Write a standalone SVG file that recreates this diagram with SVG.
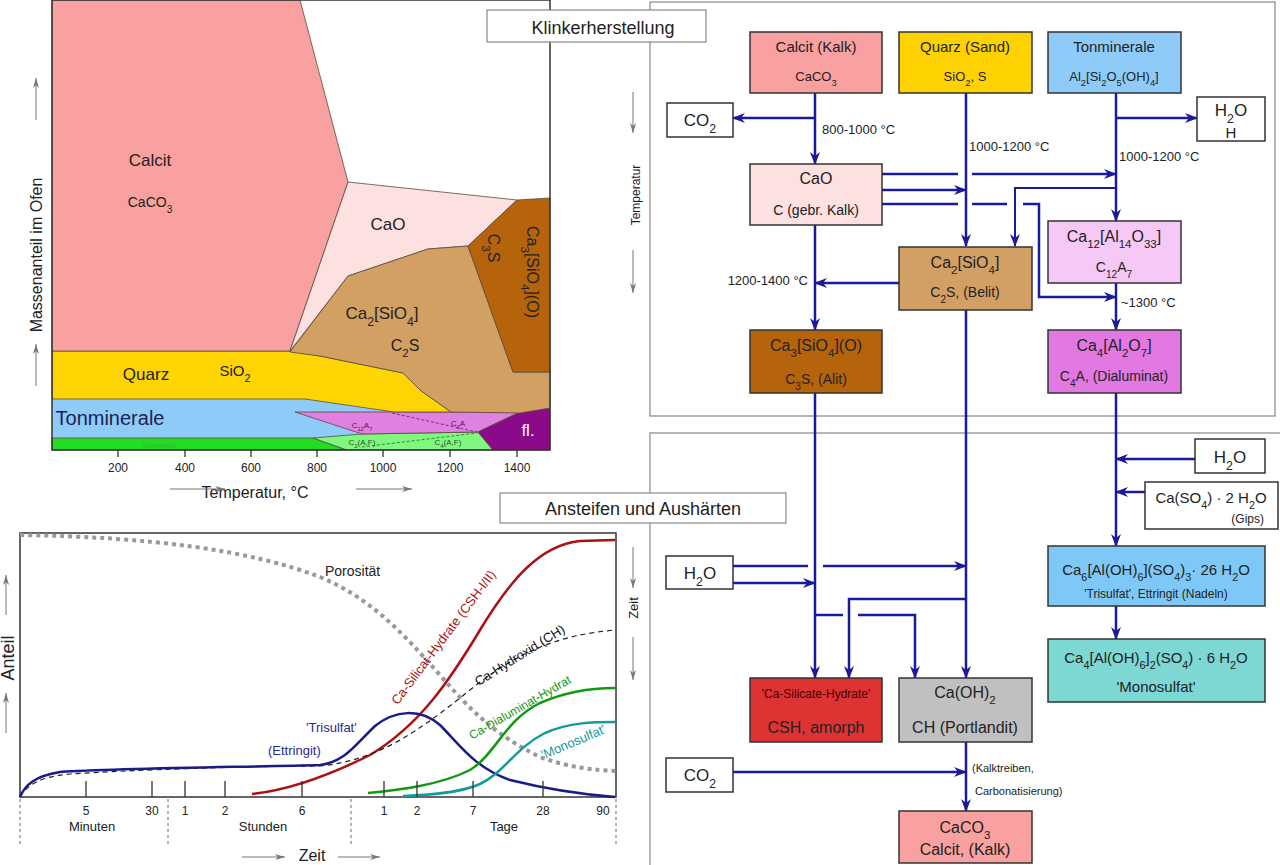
<svg xmlns="http://www.w3.org/2000/svg" width="1280" height="865" viewBox="0 0 1280 865">
<style>
.t{font-family:"Liberation Sans",Arial,sans-serif;fill:#222}
.m{text-anchor:middle}
.sb{font-size:72%;baseline-shift:sub}
.box{stroke:#333;stroke-width:1.5}
.c{fill:none;stroke:#1a1a9a;stroke-width:2.5}
.a{marker-end:url(#ah)}
.rg{stroke:#5a4a3a;stroke-width:0.8}
.panel{fill:none;stroke:#888;stroke-width:1.2}
.ga{stroke:#777;stroke-width:1;marker-end:url(#gah)}
.tick{stroke:#333;stroke-width:1.3}
.sep{stroke:#666;stroke-width:1;stroke-dasharray:3 3}
</style>
<defs>
<marker id="ah" markerWidth="13" markerHeight="10" refX="12" refY="5" orient="auto" markerUnits="userSpaceOnUse"><path d="M0,0 L13,5 L0,10 L4,5 z" fill="#1a1a9a"/></marker>
<marker id="gah" markerWidth="10" markerHeight="6" refX="10" refY="3" orient="auto" markerUnits="userSpaceOnUse"><path d="M0,0 L10,3 L0,6 L3,3 z" fill="#777"/></marker>
</defs>
<rect width="1280" height="865" fill="#fff"/>

<!-- ===== Chart 1: Klinker phases vs temperature ===== -->
<g id="chart-temperature">
<rect x="52" y="399" width="498" height="51" fill="#8ecbf9"/>
<polygon points="52,438 313,438 347,450 52,450" fill="#22dd22" class="rg"/>
<polygon points="313,438 362,434 478,432 493,450 347,450" fill="#80f880" class="rg"/>
<polygon points="295,412 520,412 478,432 362,434" fill="#e080e0" class="rg"/>
<polygon points="478,432 520,412 550,408 550,450 493,450" fill="#8a0a8a" class="rg"/>
<polygon points="52,351 290,351 320,356 403,373 420,390 451,412 394,412 305,399 52,399" fill="#fed503" class="rg"/>
<polygon points="52,0 300,0 348,182 290,351 52,351" fill="#f9a0a0" class="rg"/>
<polygon points="348,182 517,200 468,246 428,249 348,276 290,351" fill="#fde0e0" class="rg"/>
<polygon points="290,352 348,276 428,249 468,246 513,372 550,372 550,408 520,413 451,412 420,390 403,373 320,356" fill="#d2a062" class="rg"/>
<polygon points="517,200 550,198 550,372 513,372 468,246" fill="#b6640c" class="rg"/>
<line x1="392" y1="413" x2="477" y2="432" stroke="#5a2060" stroke-width="0.8" stroke-dasharray="3 2"/>
<line x1="362" y1="447" x2="477" y2="433" stroke="#226622" stroke-width="0.8" stroke-dasharray="3 2"/>
<rect x="52" y="0" width="498" height="450" fill="none" stroke="#333" stroke-width="1.5"/>
<text class="t m" x="150" y="166" font-size="17">Calcit</text>
<text class="t m" x="150" y="207" font-size="14">CaCO<tspan class="sb">3</tspan></text>
<text class="t m" x="388" y="230" font-size="17">CaO</text>
<text class="t m" x="382" y="319" font-size="17">Ca<tspan class="sb">2</tspan>[SiO<tspan class="sb">4</tspan>]</text>
<text class="t m" x="405" y="351" font-size="16">C<tspan class="sb">2</tspan>S</text>
<text class="t m" transform="translate(488,248) rotate(90)" font-size="16">C<tspan class="sb">3</tspan>S</text>
<text class="t m" transform="translate(527,272) rotate(90)" font-size="16">Ca<tspan class="sb">3</tspan>[SiO<tspan class="sb">4</tspan>](O)</text>
<text class="t m" x="146" y="380" font-size="17">Quarz</text>
<text class="t m" x="235" y="376" font-size="15">SiO<tspan class="sb">2</tspan></text>
<text class="t m" x="110" y="425" font-size="20" style="fill:#1a2450">Tonminerale</text>
<text class="t m" x="160" y="448" font-size="7" style="fill:#33b833">Eisenoxide</text>
<text class="t m" x="362" y="428" font-size="8" style="fill:#5a1060">C<tspan class="sb">12</tspan>A<tspan class="sb">7</tspan></text>
<text class="t m" x="458" y="426" font-size="8" style="fill:#5a1060">C<tspan class="sb">3</tspan>A</text>
<text class="t m" x="362" y="445" font-size="8" style="fill:#225522">C<tspan class="sb">2</tspan>(A,F)</text>
<text class="t m" x="448" y="445" font-size="8" style="fill:#225522">C<tspan class="sb">4</tspan>(A,F)</text>
<text class="t m" x="528" y="436" font-size="17" style="fill:#fff">fl.</text>
<g class="tick">
<line x1="118" y1="450" x2="118" y2="457"/><line x1="185" y1="450" x2="185" y2="457"/><line x1="251" y1="450" x2="251" y2="457"/><line x1="317" y1="450" x2="317" y2="457"/><line x1="383" y1="450" x2="383" y2="457"/><line x1="450" y1="450" x2="450" y2="457"/><line x1="517" y1="450" x2="517" y2="457"/>
</g>
<g class="t m" font-size="12">
<text x="118" y="472">200</text><text x="185" y="472">400</text><text x="251" y="472">600</text><text x="317" y="472">800</text><text x="383" y="472">1000</text><text x="450" y="472">1200</text><text x="517" y="472">1400</text>
</g>
<text class="t m" x="255" y="498" font-size="16">Temperatur, °C</text>
<line x1="170" y1="489" x2="225" y2="489" class="ga"/>
<line x1="356" y1="489" x2="412" y2="489" class="ga"/>
<text class="t m" transform="translate(42,255) rotate(-90)" font-size="16">Massenanteil im Ofen</text>
<line x1="36" y1="120" x2="36" y2="78" class="ga"/>
<line x1="36" y1="386" x2="36" y2="344" class="ga"/>
</g>

<!-- ===== Chart 2: Hydration over time ===== -->
<g id="chart-time">
<rect x="20" y="533" width="596" height="264" fill="none" stroke="#333" stroke-width="1.5"/>
<path d="M20,535 C150,537 250,550 320,577 C370,598 400,630 440,675 C470,710 495,735 540,757 C570,768 595,770 616,771" fill="none" stroke="#999" stroke-width="4" stroke-dasharray="4 4"/>
<path d="M252,794 C290,790 330,775 370,755 C420,725 450,680 480,630 C510,580 540,545 580,541 L615,540" fill="none" stroke="#aa1111" stroke-width="2.5"/>
<path d="M20,797 C28,784 40,777 70,774 C130,770 250,766 320,766 C380,760 420,730 470,690 C520,650 560,635 615,630" fill="none" stroke="#222" stroke-width="1.2" stroke-dasharray="5 4"/>
<path d="M20,797 C25,785 35,776 60,772 C120,768 250,767 320,765 C345,762 355,745 375,726 C395,710 420,708 440,725 C460,745 475,768 510,780 C550,790 590,795 615,797" fill="none" stroke="#1a1a8a" stroke-width="2.5"/>
<path d="M368,793 C400,790 440,785 470,770 C495,755 505,720 540,703 C570,690 595,688 615,688" fill="none" stroke="#119911" stroke-width="2.5"/>
<path d="M403,796 C430,795 460,793 480,784 C505,772 515,748 545,733 C570,722 595,722 615,722" fill="none" stroke="#119b9b" stroke-width="2.5"/>
<g class="tick">
<line x1="86" y1="797" x2="86" y2="781"/><line x1="152" y1="797" x2="152" y2="781"/><line x1="185" y1="797" x2="185" y2="781"/><line x1="225" y1="797" x2="225" y2="781"/><line x1="302" y1="797" x2="302" y2="781"/><line x1="384" y1="797" x2="384" y2="781"/><line x1="417" y1="797" x2="417" y2="781"/><line x1="473" y1="797" x2="473" y2="781"/><line x1="543" y1="797" x2="543" y2="781"/>
</g>
<line x1="20" y1="799" x2="20" y2="846" class="sep"/>
<line x1="168" y1="799" x2="168" y2="846" class="sep"/>
<line x1="351" y1="799" x2="351" y2="846" class="sep"/>
<line x1="616" y1="799" x2="616" y2="846" class="sep"/>
<g class="t m" font-size="12">
<text x="86" y="815">5</text><text x="152" y="815">30</text><text x="185" y="815">1</text><text x="225" y="815">2</text><text x="302" y="815">6</text><text x="384" y="815">1</text><text x="417" y="815">2</text><text x="473" y="815">7</text><text x="543" y="815">28</text><text x="603" y="815">90</text>
</g>
<g class="t m" font-size="13">
<text x="92" y="831">Minuten</text><text x="263" y="831">Stunden</text><text x="504" y="831">Tage</text>
</g>
<text class="t m" x="312" y="861" font-size="16">Zeit</text>
<line x1="242" y1="857" x2="285" y2="857" class="ga"/>
<line x1="338" y1="857" x2="380" y2="857" class="ga"/>
<text class="t m" transform="translate(14,658) rotate(-90)" font-size="18">Anteil</text>
<line x1="6" y1="615" x2="6" y2="575" class="ga"/>
<line x1="6" y1="733" x2="6" y2="693" class="ga"/>
<text class="t" x="325" y="576" font-size="14">Porosität</text>
<text class="t m" transform="translate(447,640) rotate(-53)" font-size="13" style="fill:#aa1111">Ca-Silicat-Hydrate (CSH-I/II)</text>
<text class="t m" transform="translate(522,659) rotate(-32)" font-size="13" style="fill:#111">Ca-Hydroxid (CH)</text>
<text class="t m" transform="translate(522,711) rotate(-30)" font-size="12" style="fill:#119911">Ca-Dialuminat-Hydrat</text>
<text class="t m" transform="translate(575,746) rotate(-23)" font-size="13" style="fill:#119b9b">'Monosulfat'</text>
<text class="t" x="306" y="732" font-size="13" style="fill:#2a2a8a">'Trisulfat'</text>
<text class="t" x="268" y="755" font-size="13" style="fill:#2a2a9a">(Ettringit)</text>
</g>

<!-- ===== Panels & titles ===== -->
<g id="panels">
<rect x="650" y="2" width="625" height="414" class="panel"/>
<rect x="650" y="433" width="640" height="440" class="panel"/>
<rect x="487" y="10" width="219" height="32" fill="#fff" stroke="#888" stroke-width="1.2"/>
<text class="t m" x="603" y="34" font-size="18">Klinkerherstellung</text>
<rect x="500" y="493" width="286" height="30" fill="#fff" stroke="#888" stroke-width="1.2"/>
<text class="t m" x="643" y="515" font-size="18">Ansteifen und Aushärten</text>
<text class="t m" transform="translate(640,195) rotate(-90)" font-size="12">Temperatur</text>
<line x1="633" y1="92" x2="633" y2="133" class="ga"/>
<line x1="633" y1="250" x2="633" y2="293" class="ga"/>
<text class="t m" transform="translate(638,608) rotate(-90)" font-size="13">Zeit</text>
<line x1="633" y1="547" x2="633" y2="588" class="ga"/>
<line x1="633" y1="637" x2="633" y2="680" class="ga"/>
</g>

<!-- ===== Connectors ===== -->
<g id="connectors">
<path class="c a" d="M815,93 V164"/>
<path class="c a" d="M815,118 H733"/>
<path class="c a" d="M966,93 V246"/>
<path class="c a" d="M1116,93 V221"/>
<path class="c a" d="M1116,118 H1197"/>
<path class="c" d="M882,174 H958"/>
<path class="c a" d="M972,174 H1116"/>
<path class="c a" d="M882,190 H966"/>
<path class="c" d="M882,204 H958 M972,204 H1007"/>
<path class="c a" d="M1023,204 H1039 V297 H1116"/>
<path class="c a" d="M1116,188 H1015 V246" style="stroke-width:2"/>
<path class="c a" d="M899,283 H815"/>
<path class="c a" d="M815,225 V330"/>
<path class="c a" d="M1116,283 V330"/>
<path class="c a" d="M815,393 V678"/>
<path class="c a" d="M966,310 V678"/>
<path class="c a" d="M1116,393 V546"/>
<path class="c a" d="M1195,459 H1116"/>
<path class="c a" d="M1145,492 H1116"/>
<path class="c a" d="M1116,606 V639"/>
<path class="c" d="M733,566 H808"/>
<path class="c a" d="M823,566 H966"/>
<path class="c a" d="M733,583 H815"/>
<path class="c a" d="M966,599 H849 V678"/>
<path class="c" d="M815,615 H843"/>
<path class="c a" d="M858,615 H915 V678"/>
<path class="c a" d="M733,772 H966"/>
<path class="c a" d="M966,742 V811"/>
</g>

<!-- ===== Nodes: Klinkerherstellung ===== -->
<g id="calcit">
<rect x="750" y="32" width="132" height="61" fill="#f9a0a0" class="box"/>
<text class="t m" x="816" y="52" font-size="15">Calcit (Kalk)</text>
<text class="t m" x="816" y="81" font-size="13">CaCO<tspan class="sb">3</tspan></text>
</g>
<g id="quarz">
<rect x="899" y="32" width="133" height="61" fill="#fed200" class="box"/>
<text class="t m" x="965" y="52" font-size="15">Quarz (Sand)</text>
<text class="t m" x="965" y="81" font-size="13">SiO<tspan class="sb">2</tspan>, S</text>
</g>
<g id="tonminerale">
<rect x="1048" y="32" width="133" height="61" fill="#8ecbf9" class="box"/>
<text class="t m" x="1114" y="52" font-size="15">Tonminerale</text>
<text class="t m" x="1114" y="81" font-size="13">Al<tspan class="sb">2</tspan>[Si<tspan class="sb">2</tspan>O<tspan class="sb">5</tspan>(OH)<tspan class="sb">4</tspan>]</text>
</g>
<g id="co2-top">
<rect x="667" y="103" width="66" height="34" fill="#fff" class="box"/>
<text class="t m" x="700" y="126" font-size="17">CO<tspan class="sb">2</tspan></text>
</g>
<g id="h2o-top">
<rect x="1197" y="97" width="68" height="44" fill="#fff" class="box"/>
<text class="t m" x="1231" y="116" font-size="17">H<tspan class="sb">2</tspan>O</text>
<text class="t m" x="1231" y="138" font-size="15">H</text>
</g>
<text class="t" x="822" y="134" font-size="13">800-1000 °C</text>
<text class="t" x="969" y="151" font-size="13">1000-1200 °C</text>
<text class="t" x="1119" y="161" font-size="13">1000-1200 °C</text>
<text class="t" x="808" y="285" font-size="13" text-anchor="end">1200-1400 °C</text>
<text class="t" x="1121" y="307" font-size="13">~1300 °C</text>
<g id="cao">
<rect x="750" y="164" width="132" height="61" fill="#fde0e0" class="box"/>
<text class="t m" x="816" y="184" font-size="16">CaO</text>
<text class="t m" x="816" y="215" font-size="14">C (gebr. Kalk)</text>
</g>
<g id="belit">
<rect x="899" y="247" width="133" height="63" fill="#d2a064" class="box"/>
<text class="t m" x="965" y="268" font-size="16">Ca<tspan class="sb">2</tspan>[SiO<tspan class="sb">4</tspan>]</text>
<text class="t m" x="965" y="297" font-size="14">C<tspan class="sb">2</tspan>S, (Belit)</text>
</g>
<g id="c12a7">
<rect x="1048" y="221" width="133" height="62" fill="#f5c8f5" class="box"/>
<text class="t m" x="1114" y="242" font-size="16">Ca<tspan class="sb">12</tspan>[Al<tspan class="sb">14</tspan>O<tspan class="sb">33</tspan>]</text>
<text class="t m" x="1114" y="272" font-size="14">C<tspan class="sb">12</tspan>A<tspan class="sb">7</tspan></text>
</g>
<g id="alit">
<rect x="750" y="330" width="132" height="63" fill="#b6640c" class="box"/>
<text class="t m" x="816" y="351" font-size="16">Ca<tspan class="sb">3</tspan>[SiO<tspan class="sb">4</tspan>](O)</text>
<text class="t m" x="816" y="384" font-size="14">C<tspan class="sb">3</tspan>S, (Alit)</text>
</g>
<g id="dialuminat">
<rect x="1048" y="330" width="133" height="63" fill="#e278e2" class="box"/>
<text class="t m" x="1114" y="351" font-size="16">Ca<tspan class="sb">4</tspan>[Al<tspan class="sb">2</tspan>O<tspan class="sb">7</tspan>]</text>
<text class="t m" x="1114" y="381" font-size="14">C<tspan class="sb">4</tspan>A, (Dialuminat)</text>
</g>

<!-- ===== Nodes: Ansteifen und Aushärten ===== -->
<g id="h2o-right">
<rect x="1195" y="439" width="70" height="34" fill="#fff" class="box"/>
<text class="t m" x="1230" y="463" font-size="17">H<tspan class="sb">2</tspan>O</text>
</g>
<g id="gips">
<rect x="1145" y="482" width="133" height="47" fill="#fff" class="box"/>
<text class="t m" x="1211" y="503" font-size="15">Ca(SO<tspan class="sb">4</tspan>) · 2 H<tspan class="sb">2</tspan>O</text>
<text class="t" x="1264" y="523" font-size="12" text-anchor="end">(Gips)</text>
</g>
<g id="h2o-left">
<rect x="666" y="556" width="67" height="33" fill="#fff" class="box"/>
<text class="t m" x="700" y="579" font-size="17">H<tspan class="sb">2</tspan>O</text>
</g>
<g id="trisulfat">
<rect x="1048" y="546" width="217" height="60" fill="#7ec8f8" class="box"/>
<text class="t m" x="1156" y="575" font-size="15">Ca<tspan class="sb">6</tspan>[Al(OH)<tspan class="sb">6</tspan>](SO<tspan class="sb">4</tspan>)<tspan class="sb">3</tspan>· 26 H<tspan class="sb">2</tspan>O</text>
<text class="t m" x="1156" y="598" font-size="12">'Trisulfat', Ettringit (Nadeln)</text>
</g>
<g id="monosulfat">
<rect x="1048" y="639" width="217" height="63" fill="#7dd7d3" class="box"/>
<text class="t m" x="1156" y="663" font-size="15">Ca<tspan class="sb">4</tspan>[Al(OH)<tspan class="sb">6</tspan>]<tspan class="sb">2</tspan>(SO<tspan class="sb">4</tspan>) · 6 H<tspan class="sb">2</tspan>O</text>
<text class="t m" x="1156" y="692" font-size="15">'Monosulfat'</text>
</g>
<g id="csh">
<rect x="750" y="678" width="132" height="64" fill="#dd3333" class="box"/>
<text class="t m" x="816" y="698" font-size="12" style="fill:#4a0000">'Ca-Silicate-Hydrate'</text>
<text class="t m" x="816" y="733" font-size="16">CSH, amorph</text>
</g>
<g id="portlandit">
<rect x="899" y="678" width="133" height="64" fill="#c0c0c0" class="box"/>
<text class="t m" x="965" y="698" font-size="16">Ca(OH)<tspan class="sb">2</tspan></text>
<text class="t m" x="965" y="733" font-size="16">CH (Portlandit)</text>
</g>
<g id="co2-bottom">
<rect x="666" y="758" width="67" height="34" fill="#fff" class="box"/>
<text class="t m" x="700" y="781" font-size="17">CO<tspan class="sb">2</tspan></text>
</g>
<text class="t" x="972" y="772" font-size="11">(Kalktreiben,</text>
<text class="t" x="975" y="795" font-size="11">Carbonatisierung)</text>
<g id="calcit-bottom">
<rect x="899" y="811" width="133" height="52" fill="#f9a0a0" class="box"/>
<text class="t m" x="965" y="833" font-size="16">CaCO<tspan class="sb">3</tspan></text>
<text class="t m" x="965" y="855" font-size="16">Calcit, (Kalk)</text>
</g>
</svg>
